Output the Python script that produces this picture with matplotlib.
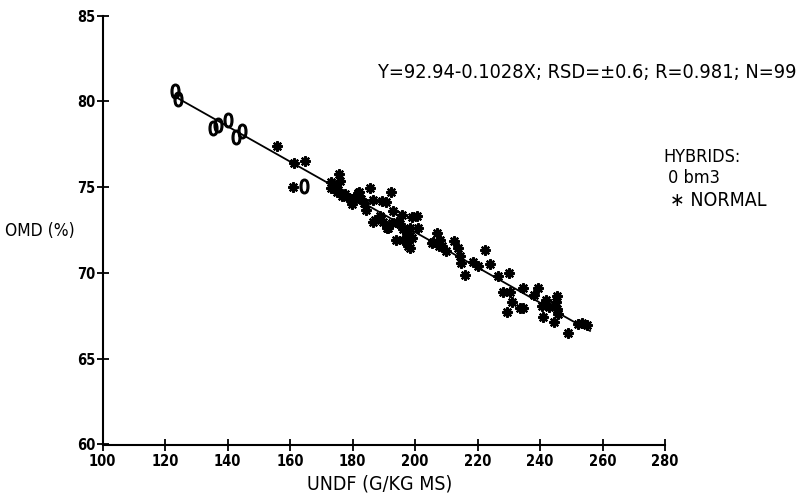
import numpy as np
from matplotlib import pyplot as plt

plt.rcParams['font.family'] = ['DejaVu Sans']
plt.rcParams['font.stretch'] = 'condensed'

# hybrid bm3 points (UNDF, OMD)
bm3_x = [123.1, 124.0, 135.2, 137.0, 140.0, 142.7, 144.5, 164.4]
bm3_y = [80.6, 80.15, 78.45, 78.6, 78.9, 77.95, 78.25, 75.05]

# normal hybrids
normal_x = [155.7, 161.3, 164.9, 160.8, 173.1, 175.7, 176.0, 173.1, 174.9, 176.7,
            178.1, 179.7, 179.9, 182.0, 182.7, 185.5, 184.3, 186.6, 186.6, 177.6,
            181.5, 189.3, 190.7, 192.2, 187.2, 188.8, 189.8, 191.4, 193.0, 194.1,
            195.2, 195.7, 193.8, 196.2, 197.3, 198.4, 197.3, 198.4, 198.9, 200.5,
            198.9, 205.3, 206.9, 207.8, 212.3, 213.8, 214.4, 216.0, 218.6, 220.2,
            214.6, 222.4, 224.0, 226.6, 230.1, 228.0, 230.4, 230.9, 229.3, 233.6,
            234.6, 234.6, 238.1, 240.5, 240.8, 241.9, 244.5, 245.3, 245.1, 245.8,
            245.5, 249.0, 253.3, 254.9, 174.5, 175.4, 181.7, 190.9, 196.1, 197.8,
            198.4, 208.5, 205.8, 208.0, 239.4, 243.0, 210.0, 183.5, 192.5, 201.0,
            252.0]
normal_y = [77.4, 76.4, 76.5, 75.0, 75.3, 75.75, 75.35, 74.95, 74.7, 74.5,
            74.45, 74.3, 74.0, 74.7, 74.3, 74.95, 73.7, 74.25, 73.0, 74.6,
            74.45, 74.2, 74.15, 74.7, 73.1, 73.3, 73.0, 72.65, 73.6, 73.0,
            72.85, 73.4, 71.95, 72.55, 72.35, 72.65, 71.95, 71.45, 73.25, 73.3,
            72.05, 71.75, 72.35, 71.55, 71.85, 71.45, 71.0, 69.9, 70.65, 70.4,
            70.6, 71.35, 70.55, 69.85, 70.0, 68.9, 68.9, 68.3, 67.7, 67.95,
            67.95, 69.1, 68.7, 68.05, 67.45, 68.45, 67.15, 68.65, 68.3, 67.6,
            67.9, 66.5, 67.1, 66.95, 75.05, 74.85, 74.65, 72.6, 71.95, 71.55,
            72.15, 71.6, 71.8, 71.95, 69.1, 68.0, 71.3, 74.1, 72.9, 72.6,
            67.05]

# fitted line Y = a + b*X
a, b = 92.94, -0.1028
fit_x = np.array([123.0, 256.0])

W, H = 807, 496
fig = plt.figure(figsize=(W / 100, H / 100), dpi=100)
ax = fig.add_axes([102.7 / W, 1 - 444.5 / H, (665 - 102.7) / W, (444.5 - 15.7) / H])

ax.plot(fit_x, a + b * fit_x, color='black', lw=1.3, zorder=1)
ax.plot(normal_x, normal_y, ls='none', marker=(8, 2, 0), ms=7.5, mew=1.6,
        color='black', zorder=2)
ax.plot(bm3_x, bm3_y, ls='none', marker=r'$\mathsf{0}$', ms=10.5, color='black',
        zorder=3)

ax.set_xlim(100, 280)
ax.set_ylim(60, 85)
ax.set_xticks(range(100, 281, 20))
ax.set_yticks(range(60, 86, 5))
for s in ['top', 'right']:
    ax.spines[s].set_visible(False)
for s in ['left', 'bottom']:
    ax.spines[s].set_linewidth(1.5)
ax.tick_params(direction='inout', length=8, width=1.3, labelsize=10.5)
for lab in ax.get_xticklabels() + ax.get_yticklabels():
    lab.set_fontweight('bold')
ax.tick_params(axis='x', pad=3)
ax.tick_params(axis='y', pad=1)

fig.text(380 / W, 1 - 484 / H, 'UNDF (G/KG MS)', ha='center', va='center', fontsize=14)
fig.text(5 / W, 1 - 231 / H, 'OMD (%)', ha='left', va='center', fontsize=12.5)
fig.text(378 / W, 1 - 72 / H, 'Y=92.94-0.1028X; RSD=\u00b10.6; R=0.981; N=99',
         ha='left', va='center', fontsize=14.3)
fig.text(663 / W, 1 - 157 / H, 'HYBRIDS:', ha='left', va='center', fontsize=13)
fig.text(668 / W, 1 - 178 / H, '0 bm3', ha='left', va='center', fontsize=13)
fig.text(670 / W, 1 - 200 / H, '\u2217 NORMAL', ha='left', va='center', fontsize=14)

fig.savefig('out.png', dpi=100)
